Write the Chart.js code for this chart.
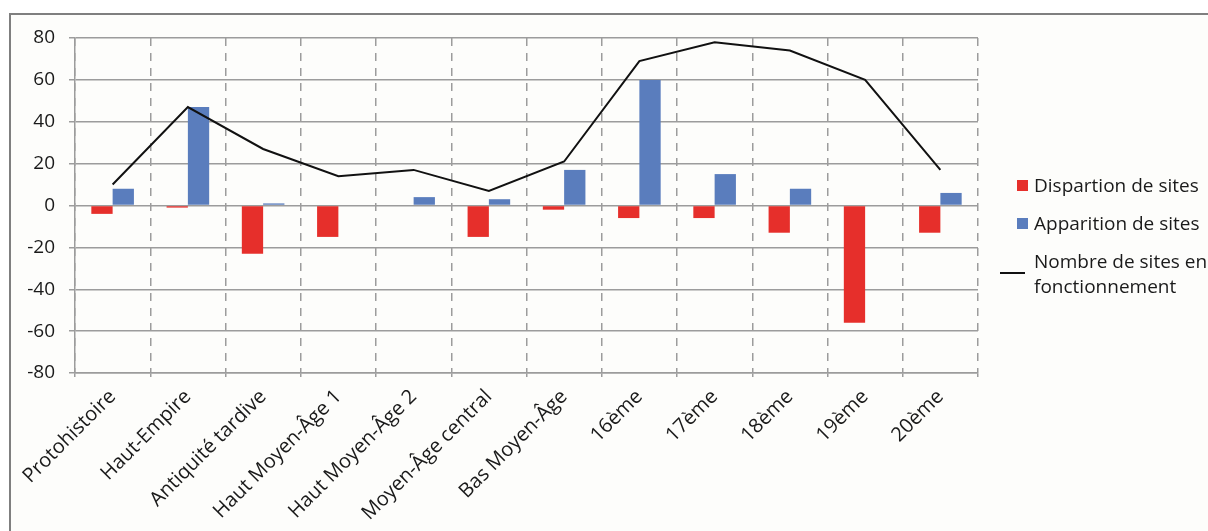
<!DOCTYPE html>
<html>
<head>
<meta charset="utf-8">
<script src="https://cdn.jsdelivr.net/npm/chart.js@4"></script>
<style>
  body { margin: 0; background: #fff; overflow: hidden; }
  #wrap { position: relative; width: 1208px; height: 531px; overflow: hidden; }
  #frame {
    position: absolute; left: 9px; top: 13px; width: 1400px; height: 700px;
    border: 2px solid #7f7f7f; background: #fdfdfb;
  }
  #myChart { position: absolute; left: 0; top: 0; }
  #legend {
    position: absolute; left: 998px; top: 170px;
    font-family: "Open Sans", Lato, sans-serif; font-size: 19px; color: #1a1a1a;
  }
  .item { position: relative; height: 38px; line-height: 30px; padding-left: 36px; white-space: nowrap; }
  .box { position: absolute; left: 19px; top: 10px; width: 11px; height: 11px; }
  .line { position: absolute; left: 2px; top: 23px; width: 25px; height: 2px; background: #111; }
  .item.two { line-height: 25px; margin-top: 3px; }
</style>
</head>
<body>
<div id="wrap">
  <div id="frame"></div>
  <canvas id="myChart" width="1208" height="531"></canvas>
  <div id="legend"></div>
</div>
<script>
const periods = ["Protohistoire", "Haut-Empire", "Antiquité tardive", "Haut Moyen-Âge 1",
  "Haut Moyen-Âge 2", "Moyen-Âge central", "Bas Moyen-Âge", "16ème", "17ème",
  "18ème", "19ème", "20ème"];
const disparition = [-4, -1, -23, -15, 0, -15, -2, -6, -6, -13, -56, -13];
const apparition = [8, 47, 1, 0, 4, 3, 17, 60, 15, 8, 0, 6];
const enFonctionnement = [10, 47, 27, 14, 17, 7, 21, 69, 78, 74, 60, 17];
const yTicks = [-80, -60, -40, -20, 0, 20, 40, 60, 80];

const seriesNames = ["Dispartion de sites", "Apparition de sites", "Nombre de sites en fonctionnement"];
const red = "#e62f2b";
const blue = "#5a7dbd";

chartIt();

function chartIt() {
  const ctx = document.getElementById("myChart");
  const yFont = { family: "'Open Sans', Lato, sans-serif", size: 19 };
  const xFont = { family: "'Open Sans', Lato, sans-serif", size: 20 };

  new Chart(ctx, {
    type: "bar",
    data: {
      labels: periods,
      datasets: [
        {
          type: "line",
          label: seriesNames[2],
          data: enFonctionnement,
          borderColor: "#111",
          borderWidth: 2,
          pointRadius: 0,
          tension: 0,
          order: 0,
        },
        {
          label: seriesNames[0],
          data: disparition,
          backgroundColor: red,
          order: 1,
        },
        {
          label: seriesNames[1],
          data: apparition,
          backgroundColor: blue,
          order: 1,
        },
      ],
    },
    options: {
      responsive: false,
      animation: false,
      layout: { padding: { left: 0, right: 230, top: 38, bottom: 0 } },
      datasets: { bar: { categoryPercentage: 0.566, barPercentage: 1.0 } },
      plugins: { legend: { display: false }, tooltip: { enabled: false } },
      scales: {
        x: {
          offset: true,
          afterFit: (scale) => { scale.height = 158; },
          grid: { offset: true, color: "#9c9c9c", lineWidth: 1.5, tickLength: 4 },
          border: { color: "#9c9c9c", width: 1.5, dash: [8, 7] },
          ticks: {
            color: "#1a1a1a", font: xFont, maxRotation: 45, minRotation: 45,
            autoSkip: false, padding: 8,
          },
        },
        y: {
          min: -80,
          max: 80,
          afterFit: (scale) => { scale.width = 75; },
          afterBuildTicks: (scale) => { scale.ticks = yTicks.map((v) => ({ value: v })); },
          grid: { color: "#9c9c9c", lineWidth: 1.5, tickLength: 6 },
          border: { color: "#9c9c9c", width: 1.5 },
          ticks: { color: "#1a1a1a", font: yFont, padding: 14 },
        },
      },
    },
  });

  // legend
  const legend = document.getElementById("legend");
  legend.innerHTML =
    '<div class="item"><span class="box" style="background:' + red + '"></span>' + seriesNames[0] + '</div>' +
    '<div class="item"><span class="box" style="background:' + blue + '"></span>' + seriesNames[1] + '</div>' +
    '<div class="item two"><span class="line"></span>' + "Nombre de sites en<br>fonctionnement" + '</div>';
}
</script>
</body>
</html>
